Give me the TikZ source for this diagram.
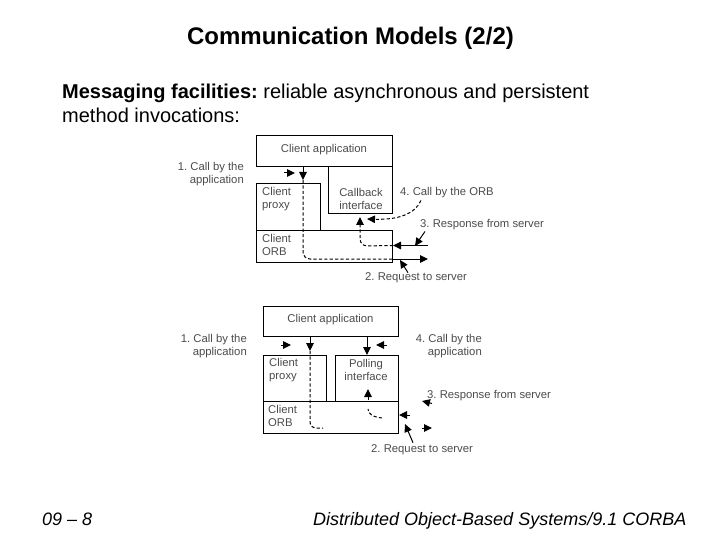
\documentclass[tikz,border=0pt]{standalone}
\usepackage{fontspec}
\setmainfont{Liberation Sans}
\usetikzlibrary{arrows.meta}
\frenchspacing
\begin{document}
\begin{tikzpicture}[x=1pt,y=-1pt,
  box/.style={draw=black,line width=1pt,inner sep=0pt,anchor=north west},
  lbl/.style={inner sep=0pt,text=black!70,font=\fontsize{11.3}{13}\selectfont},
  tip/.style={-{Triangle[length=8pt,width=7.5pt]}},
  ln/.style={draw=black,line width=1pt},
  dsh/.style={ln,dash pattern=on 3.2pt off 2.2pt}]
\fill[white] (0,0) rectangle (720,540);
\useasboundingbox (0,0) rectangle (720,540);

% texts
\node[font=\bfseries\fontsize{24}{28}\selectfont,anchor=base,inner sep=0pt] (title) at (350.5,45) {Communication Models (2/2)};
\node[font=\fontsize{20}{24}\selectfont,anchor=base west,inner sep=0pt] (b1) at (62,99) {\textbf{Messaging facilities:} reliable asynchronous and persistent};
\node[font=\fontsize{20}{24}\selectfont,anchor=base west,inner sep=0pt] (b2) at (62,122.5) {method invocations:};
\node[font=\itshape\fontsize{18}{22}\selectfont,anchor=base west,inner sep=0pt] (f1) at (42,525.5) {09 \textendash\ 8};
\node[font=\itshape\fontsize{18}{22}\selectfont,anchor=base west,inner sep=0pt] (f2) at (313,525.5) {Distributed Object-Based Systems/9.1 CORBA};

% ---------- top diagram ----------
\node[box,minimum width=136pt,minimum height=31pt] (app1) at (256,135) {};
\node[box,minimum width=64pt,minimum height=47pt] (cb1) at (328,166) {};
\node[box,minimum width=64pt,minimum height=47pt] (px1) at (256,183) {};
\node[box,minimum width=136pt,minimum height=32pt] (orb1) at (256,230) {};

\node[lbl] (tapp1) at (324,149.5) {Client application};
\node[lbl,align=left,anchor=west] (tpx1) at (262,199) {Client\\proxy};
\node[lbl,align=center] (tcb1) at (361,199) {Callback\\interface};
\node[lbl,align=left,anchor=west] (torb1) at (262,245) {Client\\ORB};

\node[lbl,align=right,anchor=east] (l1a) at (244,174.5) {1. Call by the\\application};
\node[lbl,anchor=west] (l4a) at (400,193) {4. Call by the ORB};
\node[lbl,anchor=west] (l3a) at (420,225) {3. Response from server};
\node[lbl,anchor=west] (l2a) at (365,278) {2. Request to server};

\coordinate (req1) at (428,259);
\coordinate (res1) at (428,245.5);
\coordinate (cx1) at (360,246);

\draw[ln,tip] ([xshift=47pt]app1.south west) -- ++(0,13) coordinate (r1);
\draw[dsh,rounded corners=7pt] (r1) -- (303,259) -- (orb1.east |- req1);
\draw[ln,tip] (orb1.east |- req1) -- (req1);
\draw[ln,tip] (res1) -- (orb1.east |- res1);
\draw[dsh,rounded corners=7pt,tip] (orb1.east |- res1) -- (cx1) -- ([yshift=-3pt]cb1.south -| cx1);
\draw[ln,tip] (284,173) -- (295,173);
\draw[dsh,tip] ([xshift=21pt,yshift=-2pt]l4a.south west) .. controls (415,214) and (398,220) .. (367,219);
\draw[ln,tip] ([xshift=5pt,yshift=-1pt]l3a.south west) -- (415,246);
\draw[ln,tip] ([xshift=43pt,yshift=0pt]l2a.north west) -- (400,260);

% ---------- bottom diagram ----------
\node[box,minimum width=135pt,minimum height=30pt] (app2) at (263,306) {};
\node[box,minimum width=63pt,minimum height=46pt] (px2) at (263,355) {};
\node[box,minimum width=63pt,minimum height=46pt] (pl2) at (335,355) {};
\node[box,minimum width=135pt,minimum height=32pt] (orb2) at (263,401) {};

\node[lbl] (tapp2) at (330.5,320) {Client application};
\node[lbl,align=left,anchor=west] (tpx2) at (269,370) {Client\\proxy};
\node[lbl,align=center] (tpl2) at (366,370) {Polling\\interface};
\node[lbl,align=left,anchor=west] (torb2) at (268,416) {Client\\ORB};

\node[lbl,align=right,anchor=east] (l1b) at (247,346.5) {1. Call by the\\application};
\node[lbl,align=right,anchor=east] (l4b) at (482,346.5) {4. Call by the\\application};
\node[lbl,anchor=west] (l3b) at (427,396) {3. Response from server};
\node[lbl,anchor=west] (l2b) at (371,450) {2. Request to server};

\draw[ln,tip] ([xshift=47pt]app2.south west) -- ++(0,14) coordinate (s1);
\draw[dsh,rounded corners=6pt] (s1) -- (310,428) -- (323,428);
\draw[ln,tip] (281,345) -- (291,345);
\draw[ln,tip] ([xshift=104pt]app2.south west) -- ([xshift=32pt]pl2.north west);
\draw[ln,tip] (387,345) -- (376,345);
\draw[ln,tip] (368,400) -- (368,389);
\draw[dsh] (382,418) .. controls (373,417) and (368,414) .. (368,409);
\draw[ln,tip] (410,415) -- (orb2.east |- 0,415);
\draw[ln,tip] (422,428) -- (432,428);
\draw[ln,tip] ([xshift=5pt,yshift=-2pt]l3b.south west) -- (422,401);
\draw[ln,tip] ([xshift=42pt,yshift=2pt]l2b.north west) -- (405,424);
\end{tikzpicture}
\end{document}
